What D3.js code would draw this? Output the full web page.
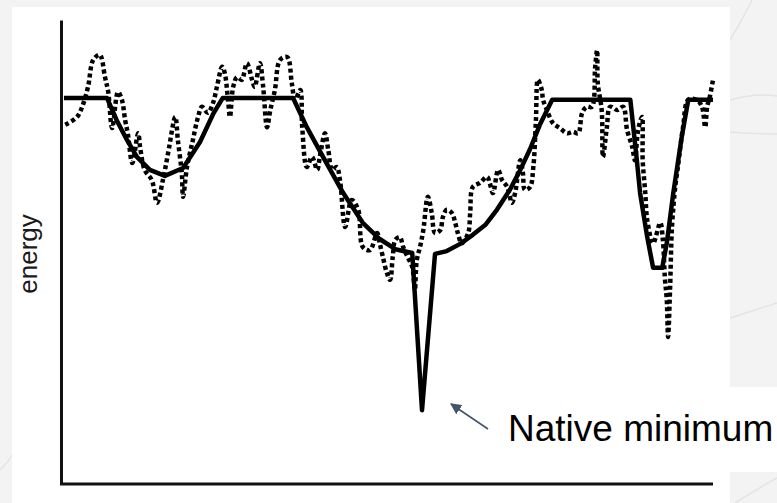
<!DOCTYPE html>
<html>
<head>
<meta charset="utf-8">
<script src="https://cdn.jsdelivr.net/npm/d3@7"></script>
<style>
  body { margin: 0; background: #f3f3f3; }
  svg { display: block; }
</style>
</head>
<body>
<div id="chart"></div>
<script>
// solid curve: smoothed energy landscape (conformation step, energy)
const smoothX = [0.3, 6.9, 8.4, 10.0, 11.5, 13.5, 15.8, 18.6, 21.2, 23.2, 24.7, 35.5, 37.6, 40.1, 43.2, 46.2, 48.8, 51.2, 53.8, 55.3, 57.3, 59.1, 61.1, 63.1, 65.0, 66.8, 68.8, 70.4, 71.9, 73.4, 75.3, 87.3, 88.3, 88.8, 89.9, 90.8, 92.2, 92.9, 93.9, 95.2, 96.2, 100];
const smoothE = [83.2, 83.2, 78.4, 74.1, 70.5, 67.7, 66.4, 68.1, 73.7, 79.7, 83.2, 83.2, 76.9, 70.5, 62.7, 56.3, 52.8, 50.6, 49.8, 15.9, 49.6, 50.2, 51.7, 53.7, 55.8, 59.1, 63.4, 67.7, 72.2, 77.4, 82.8, 82.8, 69.8, 62.7, 53.2, 46.6, 46.6, 51.9, 62.7, 74.8, 82.8, 82.8];

// dashed curve: rugged energy landscape
const roughX = [0.5, 2.3, 3.1, 4.0, 4.8, 5.8, 6.6, 7.1, 7.7, 8.6, 9.2, 9.7, 10.1, 10.8, 11.7, 12.0, 12.7, 13.8, 14.6, 15.5, 16.3, 17.4, 17.8, 18.4, 18.6, 19.2, 20.1, 20.9, 21.5, 22.4, 23.2, 23.8, 24.6, 25.0, 25.5, 25.8, 26.3, 26.9, 27.6, 28.4, 29.2, 29.6, 30.4, 30.9, 31.5, 32.0, 32.7, 33.5, 34.6, 35.3, 35.8, 36.6, 36.9, 37.6, 38.4, 39.2, 39.6, 40.4, 40.9, 41.5, 42.2, 42.7, 43.5, 44.5, 45.5, 46.2, 47.3, 48.4, 48.8, 49.3, 49.9, 50.4, 50.8, 51.2, 51.9, 52.4, 53.1, 53.8, 54.2, 54.5, 55.0, 55.5, 56.2, 56.8, 57.3, 58.1, 58.5, 59.1, 59.9, 60.4, 60.8, 61.4, 62.4, 62.7, 63.1, 64.2, 65.3, 65.7, 66.2, 67.0, 67.6, 68.4, 69.1, 69.6, 70.4, 70.8, 71.1, 71.9, 72.4, 72.8, 73.1, 73.7, 73.9, 74.5, 75.4, 76.5, 77.6, 78.5, 79.3, 79.9, 80.6, 81.4, 81.9, 82.2, 82.3, 82.9, 83.1, 83.7, 84.2, 85.3, 86.2, 86.8, 87.6, 88.0, 88.5, 89.1, 89.2, 89.6, 89.9, 90.8, 91.9, 92.3, 92.6, 92.9, 93.1, 93.4, 93.7, 94.2, 94.6, 95.4, 96.2, 97.5, 98.3, 98.8, 99.1, 99.5, 100];
const roughE = [77.4, 79.1, 81.3, 85.6, 91.4, 92.5, 87.7, 84.5, 76.7, 84.5, 82.8, 78.4, 75.6, 69.2, 75.6, 72.6, 67.7, 65.5, 60.6, 65.5, 71.3, 79.1, 74.1, 67.0, 61.9, 68.3, 74.1, 79.1, 81.3, 80.0, 82.1, 85.6, 89.9, 88.6, 82.8, 79.1, 85.6, 87.7, 87.1, 90.7, 87.1, 85.6, 90.7, 85.6, 76.9, 80.6, 84.9, 91.4, 92.0, 86.4, 82.8, 84.9, 76.9, 68.3, 70.5, 67.7, 70.5, 75.6, 72.0, 67.7, 68.3, 65.5, 55.4, 61.2, 59.1, 51.1, 50.4, 54.1, 51.9, 48.9, 45.5, 44.0, 48.9, 52.6, 53.2, 51.1, 48.9, 46.8, 41.8, 48.3, 51.1, 54.7, 61.9, 58.4, 54.1, 54.7, 57.5, 59.1, 58.4, 56.3, 54.1, 51.9, 54.1, 58.4, 64.0, 64.9, 66.2, 64.9, 62.7, 67.7, 65.5, 64.0, 60.6, 62.7, 69.8, 67.0, 63.4, 64.0, 68.3, 78.4, 87.1, 84.9, 82.8, 80.6, 77.8, 76.7, 75.6, 75.9, 75.6, 80.0, 81.3, 81.3, 89.9, 93.5, 86.4, 80.6, 70.5, 76.9, 81.3, 80.6, 81.3, 76.3, 72.6, 69.8, 76.3, 79.1, 69.8, 62.7, 56.9, 51.9, 56.3, 52.6, 44.6, 39.7, 31.7, 41.8, 55.4, 64.0, 68.3, 76.9, 82.8, 82.8, 81.3, 76.9, 81.3, 83.4, 87.1];

const yLabel = "energy";
const note = "Native minimum";

const W = 777, H = 503;
const svg = d3.select("#chart").append("svg")
    .attr("width", W)
    .attr("height", H);

// grey slide background with faint swooshes
svg.append("rect").attr("width", W).attr("height", H).attr("fill", "#f3f3f3");
const swoosh = ["M730,40 Q745,15 752,0", "M730,100 Q755,93 777,96", "M730,132 Q755,134 777,134",
                "M730,318 Q755,310 777,303", "M735,503 Q755,490 777,478", "M0,470 Q8,462 12,455"];
svg.selectAll(".swoosh").data(swoosh).enter().append("path")
    .attr("d", d => d).attr("fill", "none")
    .attr("stroke", "#e4e4e4").attr("stroke-width", 1.5);

// white figure panel and the label's text box
svg.append("rect").attr("x", 12).attr("y", 7).attr("width", 718).attr("height", 496).attr("fill", "#fff");
svg.append("rect").attr("x", 500).attr("y", 387).attr("width", 277).attr("height", 85).attr("fill", "#fff");

const x = d3.scaleLinear().domain([0, 100]).range([62, 713]);
const y = d3.scaleLinear().domain([0, 100]).range([484, 20]);

// bare axes, no ticks
svg.append("g")
    .attr("transform", "translate(61,0)")
    .call(d3.axisLeft(y).tickValues([]).tickSizeOuter(0))
    .select(".domain").attr("stroke", "#111").attr("stroke-width", 3);
svg.append("g")
    .attr("transform", "translate(0,484)")
    .call(d3.axisBottom(x).tickValues([]).tickSizeOuter(0))
    .select(".domain").attr("stroke", "#111").attr("stroke-width", 3)
    .attr("d", `M${x(0) - 2},0H${x(100)}`);

svg.append("text")
    .attr("transform", `translate(37,${(y(0) + y(100)) / 2 + 2}) rotate(-90)`)
    .attr("text-anchor", "middle")
    .attr("font-family", "Liberation Sans, Arial, sans-serif")
    .attr("font-size", 26)
    .attr("fill", "#1a1a1a")
    .text(yLabel);

const rough = roughX.map((v, i) => [v, roughE[i]]);
const smooth = smoothX.map((v, i) => [v, smoothE[i]]);

svg.append("path")
    .datum(rough)
    .attr("fill", "none")
    .attr("stroke", "#000")
    .attr("stroke-width", 4.5)
    .attr("stroke-dasharray", "4 3")
    .attr("d", d3.line().x(d => x(d[0])).y(d => y(d[1])).curve(d3.curveCatmullRom.alpha(0.5)));

svg.append("path")
    .datum(smooth)
    .attr("fill", "none")
    .attr("stroke", "#000")
    .attr("stroke-width", 4.5)
    .attr("stroke-linejoin", "round")
    .attr("d", d3.line().x(d => x(d[0])).y(d => y(d[1])));

// arrow pointing at the native minimum
svg.append("defs").append("marker")
    .attr("id", "head")
    .attr("viewBox", "0 0 10 10")
    .attr("refX", 9).attr("refY", 5)
    .attr("markerWidth", 7).attr("markerHeight", 7)
    .attr("orient", "auto")
    .append("path").attr("d", "M0,0L10,5L0,10z").attr("fill", "#44546a");

svg.append("line")
    .attr("x1", 488).attr("y1", 429)
    .attr("x2", 451).attr("y2", 404)
    .attr("stroke", "#44546a").attr("stroke-width", 1.6)
    .attr("marker-end", "url(#head)");

svg.append("text")
    .attr("x", 508).attr("y", 441)
    .attr("font-family", "Liberation Sans, Arial, sans-serif")
    .attr("font-size", 37)
    .attr("fill", "#000")
    .text(note);
</script>
</body>
</html>
